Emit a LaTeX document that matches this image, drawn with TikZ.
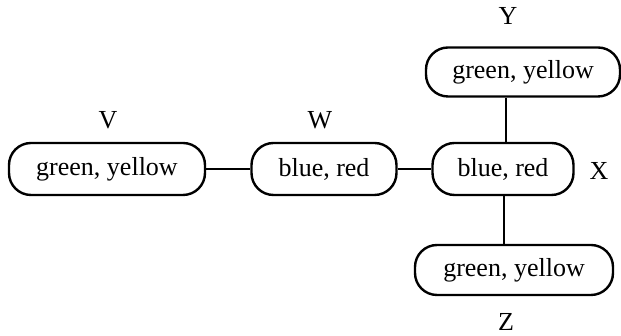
\documentclass[tikz,border=0pt]{standalone}
\usepackage{fontspec}
\setmainfont{Liberation Serif}
\begin{document}
\begin{tikzpicture}[x=1pt,y=1pt,
  valbox/.style={draw, line width=2.4pt, rounded corners=22pt, minimum height=52pt, inner sep=0pt, font=\fontsize{26}{30}\selectfont},
  lbl/.style={font=\fontsize{26}{30}\selectfont, inner sep=0pt},
  link/.style={line width=2pt}]
\useasboundingbox (0,0) rectangle (621,336);
\node[valbox, minimum width=196pt] (V) at (107,167) {green, yellow};
\node[valbox, minimum width=145pt] (W) at (324,167) {blue, red};
\node[valbox, minimum width=141pt] (X) at (503,167) {blue, red};
\node[valbox, minimum width=194pt, minimum height=49pt] (Y) at (523,264) {green, yellow};
\node[valbox, minimum width=198pt, minimum height=50pt] (Z) at (514,66) {green, yellow};
\node[lbl] (lV) at (108,216) {V};
\node[lbl] (lW) at (320,216) {W};
\node[lbl] (lX) at (599,165) {X};
\node[lbl] (lY) at (508,320) {Y};
\node[lbl] (lZ) at (506,14) {Z};
\draw[link] (V.east) -- (W.west);
\draw[link] (W.east) -- (X.west);
\draw[link] ([xshift=3pt]X.north) -- ([xshift=3pt]X.north |- Y.south);
\draw[link] ([xshift=1pt]X.south) -- ([xshift=1pt]X.south |- Z.north);
\end{tikzpicture}
\end{document}
